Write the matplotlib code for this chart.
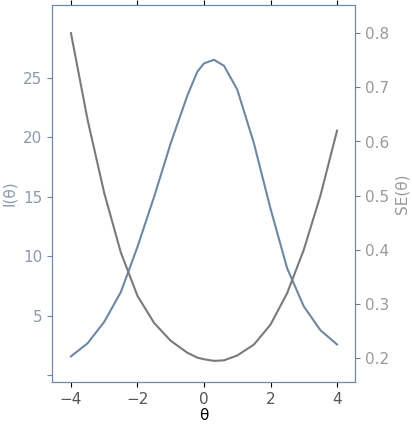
import matplotlib
matplotlib.use("Agg")
import matplotlib.pyplot as plt
import numpy as np

theta = [-4, -3.5, -3, -2.5, -2, -1.5, -1, -0.5, -0.2, 0, 0.3, 0.6, 1, 1.5, 2, 2.5, 3, 3.5, 4]
info = [1.6, 2.7, 4.5, 7.0, 10.8, 15.0, 19.5, 23.5, 25.5, 26.2, 26.5, 26.0, 24.0, 19.5, 14.0, 9.0, 5.8, 3.8, 2.6]
se = [0.80, 0.64, 0.505, 0.395, 0.315, 0.265, 0.232, 0.21, 0.201, 0.198, 0.195, 0.196, 0.205, 0.225, 0.262, 0.32, 0.40, 0.50, 0.62]
left_ticks = [0, 5, 10, 15, 20, 25]
left_labels = ["", "5", "10", "15", "20", "25"]

blue = "#6c88a6"
gray = "#7a7a7a"
fig = plt.figure(figsize=(4.12, 4.24), dpi=100)
ax = fig.add_axes([52/412, 42/424, 303/412, 377/424])
ax.plot(theta, info, color=blue, lw=1.5)
ax.set_xlim(-4.57, 4.54)
ax.set_ylim(-0.55, 31.1)
ax.set_yticks(left_ticks, left_labels)
ax.set_xticks([-4, -2, 0, 2, 4])
ax.tick_params(axis='y', colors=blue, labelsize=11, labelcolor="#8a9bb0")
ax.tick_params(axis='x', labelsize=11, top=True, labelcolor="#555555")
ax.set_ylabel("I(θ)", color="#8a9bb0", fontsize=11)
ax.set_xlabel("θ", fontsize=11, labelpad=1)
ax2 = ax.twinx()
ax2.plot(theta, se, color=gray, lw=1.5)
ax2.set_ylim(0.156, 0.852)
ax2.set_yticks([0.2, 0.3, 0.4, 0.5, 0.6, 0.7, 0.8])
ax2.tick_params(axis='y', labelsize=11, colors=gray, labelcolor="#999999")
ax2.set_ylabel("SE(θ)", color="#999999", fontsize=11)
for a in (ax, ax2):
    for s in a.spines.values():
        s.set_color("#6c88a6")
fig.savefig("out.png", dpi=100)
